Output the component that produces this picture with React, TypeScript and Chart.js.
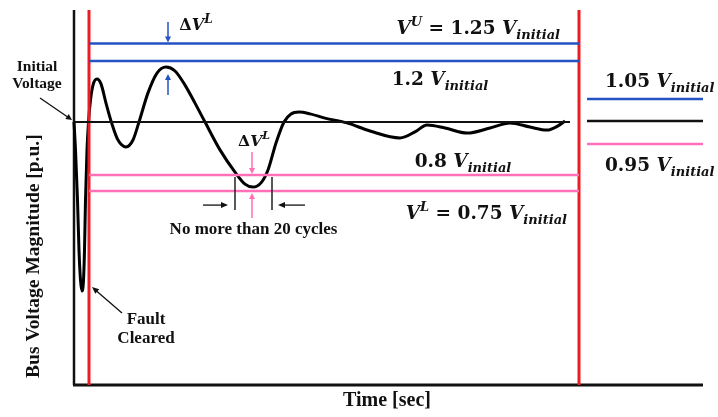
import React, { useEffect, useRef } from "react";
import { Chart, registerables } from "chart.js";
Chart.register(...registerables);

// ---- data (schematic units: time axis in arbitrary sec, voltage in p.u.) ----
const timeSec = [0, 0.015, 0.035, 0.05, 0.065, 0.08, 0.095, 0.105, 0.115, 0.13, 0.145, 0.165, 0.19, 0.23, 0.27, 0.32, 0.38, 0.44, 0.52, 0.59, 0.65, 0.74, 0.83, 0.92, 1.01, 1.11, 1.21, 1.31, 1.46, 1.61, 1.71, 1.79, 1.87, 1.94, 2.02, 2.1, 2.17, 2.25, 2.36, 2.51, 2.73, 2.96, 3.26, 3.41, 3.53, 3.71, 3.93, 4.16, 4.36, 4.56, 4.73, 4.84, 4.91];
const busVoltage = [1.0, 0.907, 0.74, 0.573, 0.473, 0.437, 0.473, 0.573, 0.74, 0.907, 1.0, 1.073, 1.123, 1.143, 1.127, 1.063, 0.993, 0.94, 0.917, 0.94, 1.0, 1.097, 1.163, 1.183, 1.17, 1.123, 1.063, 1.0, 0.907, 0.833, 0.793, 0.783, 0.797, 0.84, 0.93, 1.0, 1.027, 1.033, 1.027, 1.013, 0.997, 0.97, 0.947, 0.967, 0.99, 0.98, 0.963, 0.98, 0.997, 0.983, 0.973, 0.987, 1.003];

const faultClearedTime = 0.15;
const windowEndTime = 5.05;
const initialLineEnd = 4.96;
const initialLevel = 1.0;
const upperLimitLevel = 1.262; // V^U = 1.25 Vinitial (as drawn)
const upperWarnLevel = 1.203; // 1.2 Vinitial (as drawn)
const lowerWarnLevel = 0.823; // 0.8 Vinitial (as drawn)
const lowerLimitLevel = 0.77; // V^L = 0.75 Vinitial (as drawn)
const legendRange = [5.13, 6.29];
const legendLevels = [1.077, 1.003, 0.927]; // 1.05, initial, 0.95
const timeRange = [0, 6.29];
const voltageRange = [0.1233, 1.3733];

const upperLimitText = "1.25";
const upperWarnText = "1.2";
const lowerWarnText = "0.8";
const lowerLimitText = "0.75";
const legendUpperText = "1.05";
const legendLowerText = "0.95";

const BLUE = "#2352c2";
const PINK = "#ff70b8";
const RED = "#ec1c24";
const MATH = "'DejaVu Serif', serif";
const SERIF = "'Liberation Serif', 'Times New Roman', serif";

type Seg = { t: string; it?: boolean; sub?: boolean; sup?: boolean };

function drawRich(ctx: CanvasRenderingContext2D, segs: Seg[], x: number, yMid: number, size: number, family: string, align: "left" | "center" | "right") {
  const fontOf = (s: Seg) => `${s.it ? "italic " : ""}bold ${s.sub || s.sup ? Math.round(size * 0.72) : size}px ${family}`;
  let total = 0;
  const widths = segs.map((s) => {
    ctx.font = fontOf(s);
    const w = ctx.measureText(s.t).width;
    total += w;
    return w;
  });
  let cx = align === "left" ? x : align === "center" ? x - total / 2 : x - total;
  const base = yMid + size * 0.36;
  ctx.textAlign = "left";
  ctx.textBaseline = "alphabetic";
  segs.forEach((s, i) => {
    ctx.font = fontOf(s);
    const dy = s.sub ? size * 0.28 : s.sup ? -size * 0.42 : 0;
    ctx.fillText(s.t, cx, base + dy);
    cx += widths[i];
  });
}

function arrow(ctx: CanvasRenderingContext2D, x1: number, y1: number, x2: number, y2: number, color: string, w: number, hl = 7, hw = 3.5) {
  const a = Math.atan2(y2 - y1, x2 - x1);
  ctx.strokeStyle = color;
  ctx.fillStyle = color;
  ctx.lineWidth = w;
  ctx.beginPath();
  ctx.moveTo(x1, y1);
  ctx.lineTo(x2 - Math.cos(a) * hl * 0.8, y2 - Math.sin(a) * hl * 0.8);
  ctx.stroke();
  ctx.beginPath();
  ctx.moveTo(x2, y2);
  ctx.lineTo(x2 - Math.cos(a) * hl - Math.sin(a) * hw, y2 - Math.sin(a) * hl + Math.cos(a) * hw);
  ctx.lineTo(x2 - Math.cos(a) * hl + Math.sin(a) * hw, y2 - Math.sin(a) * hl - Math.cos(a) * hw);
  ctx.closePath();
  ctx.fill();
}

const vInit = (): Seg[] => [{ t: "V", it: true }, { t: "initial", it: true, sub: true }];
const deltaVL = (): Seg[] => [{ t: "Δ" }, { t: "V", it: true }, { t: "L", it: true, sup: true }];
const MS = 18.5;

const annotations = {
  id: "annotations",
  beforeDatasetsDraw(chart: any) {
    const ctx: CanvasRenderingContext2D = chart.ctx;
    const { left, right, top, bottom } = chart.chartArea;
    ctx.save();
    ctx.strokeStyle = "#111";
    ctx.lineWidth = 2.5;
    ctx.beginPath();
    ctx.moveTo(left, top);
    ctx.lineTo(left, bottom);
    ctx.stroke();
    ctx.lineWidth = 3;
    ctx.beginPath();
    ctx.moveTo(left - 1, bottom);
    ctx.lineTo(right, bottom);
    ctx.stroke();
    ctx.restore();
  },
  afterDatasetsDraw(chart: any) {
    const ctx: CanvasRenderingContext2D = chart.ctx;
    const xs = chart.scales.x;
    const ys = chart.scales.y;
    const X = (t: number) => xs.getPixelForValue(t);
    const Y = (v: number) => ys.getPixelForValue(v);
    ctx.save();
    ctx.fillStyle = "#111";

    // upper band
    drawRich(ctx, deltaVL(), X(1.22), Y(1.327), 16, MATH, "center");
    arrow(ctx, X(0.94), Y(1.333), X(0.94), Y(upperLimitLevel) - 1, BLUE, 1.5, 6, 3);
    arrow(ctx, X(0.94), Y(1.09), X(0.94), Y(1.16), BLUE, 1.5, 6, 3);
    ctx.fillStyle = "#111";
    drawRich(ctx, [{ t: "V", it: true }, { t: "U", it: true, sup: true }, { t: " = " + upperLimitText + " " }, ...vInit()], X(4.86), Y(1.317), MS, MATH, "right");
    drawRich(ctx, [{ t: upperWarnText + " " }, ...vInit()], X(3.66), Y(1.147), MS, MATH, "center");

    // lower band
    drawRich(ctx, [{ t: lowerWarnText + " " }, ...vInit()], X(3.89), Y(0.873), MS, MATH, "center");
    drawRich(ctx, [{ t: "V", it: true }, { t: "L", it: true, sup: true }, { t: " = " + lowerLimitText + " " }, ...vInit()], X(4.93), Y(0.70), MS, MATH, "right");
    drawRich(ctx, deltaVL(), X(1.8), Y(0.94), 15.5, MATH, "center");
    arrow(ctx, X(1.78), Y(0.9), X(1.78), Y(lowerWarnLevel) - 1, PINK, 1.5, 6, 3);
    arrow(ctx, X(1.78), Y(0.68), X(1.78), Y(lowerLimitLevel) + 2, PINK, 1.5, 6, 3);

    // duration markers
    ctx.strokeStyle = "#222";
    ctx.lineWidth = 1.5;
    [1.61, 1.98].forEach((t) => {
      ctx.beginPath();
      ctx.moveTo(X(t), Y(0.817));
      ctx.lineTo(X(t), Y(0.707));
      ctx.stroke();
    });
    arrow(ctx, X(1.29), Y(0.723), X(1.54), Y(0.723), "#111", 1.3, 7, 3);
    arrow(ctx, X(2.31), Y(0.723), X(2.04), Y(0.723), "#111", 1.3, 7, 3);
    ctx.fillStyle = "#111";
    ctx.font = `bold 17px ${SERIF}`;
    ctx.textAlign = "center";
    ctx.textBaseline = "middle";
    ctx.fillText("No more than 20 cycles", X(1.795), Y(0.64));

    // initial voltage
    ctx.font = `bold 15.5px ${SERIF}`;
    ctx.fillText("Initial", X(-0.37), Y(1.183));
    ctx.fillText("Voltage", X(-0.37), Y(1.127));
    arrow(ctx, X(-0.34), Y(1.08), X(-0.02), Y(1.0067), "#111", 1.3, 6, 3);

    // fault cleared
    ctx.font = `bold 17px ${SERIF}`;
    ctx.fillText("Fault", X(0.72), Y(0.34));
    ctx.fillText("Cleared", X(0.72), Y(0.277));
    arrow(ctx, X(0.48), Y(0.363), X(0.18), Y(0.45), "#111", 1.3, 7, 3);

    // right legend labels
    drawRich(ctx, [{ t: legendUpperText + " " }, ...vInit()], X(5.31), Y(1.14), MS, MATH, "left");
    drawRich(ctx, [{ t: legendLowerText + " " }, ...vInit()], X(5.31), Y(0.86), MS, MATH, "left");

    // axis titles
    ctx.font = `bold 20px ${SERIF}`;
    ctx.textAlign = "center";
    ctx.textBaseline = "middle";
    ctx.fillText("Time [sec]", X(3.13), Y(0.07));
    ctx.save();
    ctx.translate(X(-0.4), Y(0.553));
    ctx.rotate(-Math.PI / 2);
    ctx.font = `bold 19.5px ${SERIF}`;
    ctx.fillText("Bus Voltage Magnitude [p.u.]", 0, 0);
    ctx.restore();
    ctx.restore();
  },
};

function hLine(t0: number, t1: number, v: number, color: string, w: number) {
  return {
    data: [{ x: t0, y: v }, { x: t1, y: v }],
    borderColor: color,
    borderWidth: w,
    pointRadius: 0,
    tension: 0,
  };
}
function vLine(t: number, color: string, w: number) {
  return {
    data: [{ x: t, y: voltageRange[0] }, { x: t, y: voltageRange[1] }],
    borderColor: color,
    borderWidth: w,
    pointRadius: 0,
    tension: 0,
  };
}

export default function App() {
  const ref = useRef<HTMLCanvasElement | null>(null);
  useEffect(() => {
    if (!ref.current) return;
    const chart = new Chart(ref.current, {
      type: "line",
      data: {
        datasets: [
          hLine(timeRange[0], initialLineEnd, initialLevel, "#111", 2),
          hLine(faultClearedTime, windowEndTime, upperLimitLevel, BLUE, 2.5),
          hLine(faultClearedTime, windowEndTime, upperWarnLevel, BLUE, 2.5),
          hLine(faultClearedTime, windowEndTime, lowerWarnLevel, PINK, 2.5),
          hLine(faultClearedTime, windowEndTime, lowerLimitLevel, PINK, 2.5),
          hLine(legendRange[0], legendRange[1], legendLevels[0], BLUE, 2.5),
          hLine(legendRange[0], legendRange[1], legendLevels[1], "#111", 2.5),
          hLine(legendRange[0], legendRange[1], legendLevels[2], PINK, 2.5),
          vLine(faultClearedTime, RED, 3),
          vLine(windowEndTime, RED, 3),
          {
            data: timeSec.map((t, i) => ({ x: t, y: busVoltage[i] })),
            borderColor: "#000",
            borderWidth: 3,
            pointRadius: 0,
            cubicInterpolationMode: "monotone",
          },
        ] as any,
      },
      options: {
        responsive: false,
        animation: false,
        events: [],
        clip: false as any,
        layout: { padding: { left: 74, right: 15, top: 10, bottom: 32 } },
        plugins: { legend: { display: false }, tooltip: { enabled: false }, title: { display: false } },
        scales: {
          x: { type: "linear", display: false, min: timeRange[0], max: timeRange[1] },
          y: { type: "linear", display: false, min: voltageRange[0], max: voltageRange[1] },
        },
      },
      plugins: [annotations],
    });
    return () => chart.destroy();
  }, []);
  return (
    <div style={{ position: "fixed", left: 0, top: 0, width: 718, height: 417, background: "#fff" }}>
      <canvas ref={ref} width={718} height={417} style={{ display: "block" }} />
    </div>
  );
}
